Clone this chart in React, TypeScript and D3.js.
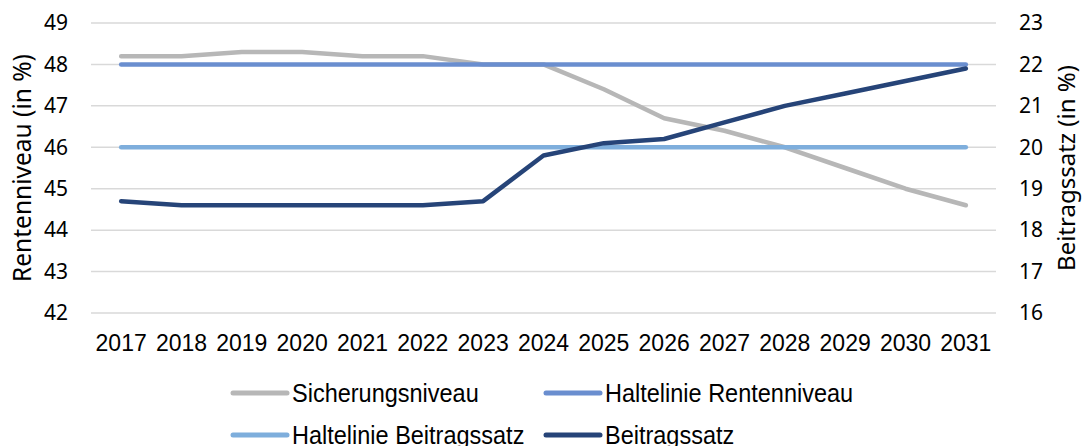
import React from "react";
import { scalePoint, scaleLinear, line } from "d3";

const years = [2017, 2018, 2019, 2020, 2021, 2022, 2023, 2024, 2025, 2026, 2027, 2028, 2029, 2030, 2031];
const sicherungsniveau = [48.2, 48.2, 48.3, 48.3, 48.2, 48.2, 48.0, 48.0, 47.4, 46.7, 46.4, 46.0, 45.5, 45.0, 44.6];
const halteRente = [48, 48, 48, 48, 48, 48, 48, 48, 48, 48, 48, 48, 48, 48, 48];
const halteBeitrag = [20, 20, 20, 20, 20, 20, 20, 20, 20, 20, 20, 20, 20, 20, 20];
const beitragssatz = [18.7, 18.6, 18.6, 18.6, 18.6, 18.6, 18.7, 19.8, 20.1, 20.2, 20.6, 21.0, 21.3, 21.6, 21.9];
const leftTicks = [42, 43, 44, 45, 46, 47, 48, 49];
const rightTicks = [16, 17, 18, 19, 20, 21, 22, 23];

const W = 1082;
const H = 446;
const plotLeft = 91;
const plotRight = 996;
const plotTop = 23;
const plotBottom = 313;

const tickFont = "'Noto Sans', 'Open Sans', sans-serif";
const labelFont = "'Liberation Sans', Arial, sans-serif";

const App: React.FC = () => {
  const x = scalePoint<number>().domain(years).range([plotLeft, plotRight]).padding(0.5);
  const yL = scaleLinear().domain([42, 49]).range([plotBottom, plotTop]);
  const yR = scaleLinear().domain([16, 23]).range([plotBottom, plotTop]);

  const lineL = line<number>()
    .x((_, i) => x(years[i]) as number)
    .y((d) => yL(d));
  const lineR = line<number>()
    .x((_, i) => x(years[i]) as number)
    .y((d) => yR(d));

  const series = [
    { name: "Sicherungsniveau", data: sicherungsniveau, gen: lineL, color: "#B7B7B7" },
    { name: "Haltelinie Rentenniveau", data: halteRente, gen: lineL, color: "#6A8ECF" },
    { name: "Haltelinie Beitragssatz", data: halteBeitrag, gen: lineR, color: "#7EAEDC" },
    { name: "Beitragssatz", data: beitragssatz, gen: lineR, color: "#264478" },
  ];

  // legend layout: 2 columns, 2 rows
  const legendCols = [233, 546];
  const legendRows = [393, 435];

  return (
    <div style={{ position: "absolute", left: 0, top: 0 }}>
      <svg width={W} height={H} style={{ display: "block", background: "#fff" }}>
        {leftTicks.map((t) => (
          <line
            key={"g" + t}
            x1={plotLeft}
            x2={plotRight}
            y1={yL(t)}
            y2={yL(t)}
            stroke="#D9D9D9"
            strokeWidth={1.5}
          />
        ))}
        {leftTicks.map((t) => (
          <text
            key={"l" + t}
            x={68}
            y={yL(t)}
            dy="0.35em"
            textAnchor="end"
            fontFamily={tickFont}
            fontSize={21}
            fill="#000"
          >
            {t}
          </text>
        ))}
        {rightTicks.map((t) => (
          <text
            key={"r" + t}
            x={1019}
            y={yR(t)}
            dy="0.35em"
            textAnchor="start"
            fontFamily={tickFont}
            fontSize={21}
            fill="#000"
          >
            {t}
          </text>
        ))}
        {years.map((yr) => (
          <text
            key={"x" + yr}
            x={x(yr)}
            y={351}
            textAnchor="middle"
            fontFamily={labelFont}
            fontSize={23}
            fill="#000"
          >
            {yr}
          </text>
        ))}
        <text
          transform="translate(31,168) rotate(-90)"
          textAnchor="middle"
          fontFamily={tickFont}
          fontSize={24.5}
          fill="#000"
        >
          Rentenniveau (in %)
        </text>
        <text
          transform="translate(1075,168) rotate(-90)"
          textAnchor="middle"
          fontFamily={tickFont}
          fontSize={24}
          fill="#000"
        >
          Beitragssatz (in %)
        </text>
        {series.map((s) => (
          <path
            key={s.name}
            d={s.gen(s.data) || ""}
            fill="none"
            stroke={s.color}
            strokeWidth={4.5}
            strokeLinecap="round"
            strokeLinejoin="round"
          />
        ))}
        {series.map((s, i) => {
          const lx = legendCols[i % 2];
          const ly = legendRows[Math.floor(i / 2)];
          return (
            <g key={"lg" + s.name}>
              <line x1={lx} x2={lx + 54} y1={ly} y2={ly} stroke={s.color} strokeWidth={5} strokeLinecap="round" />
              <text
                transform={`translate(${lx + 59},${ly + 9}) scale(0.94,1)`}
                fontFamily={labelFont}
                fontSize={25}
                fill="#000"
              >
                {s.name}
              </text>
            </g>
          );
        })}
      </svg>
    </div>
  );
};

export default App;
